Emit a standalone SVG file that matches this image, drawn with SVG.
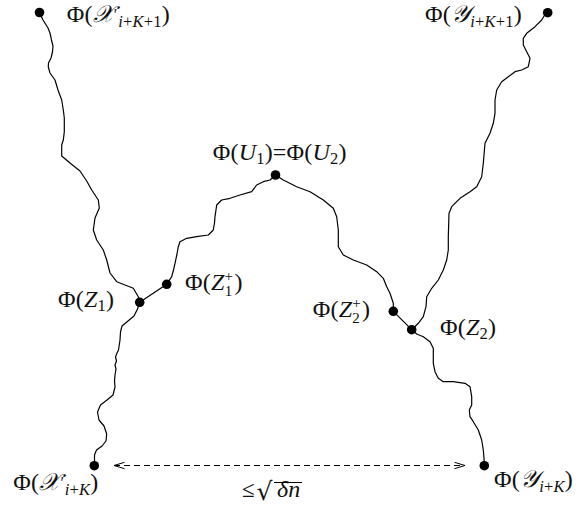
<svg xmlns="http://www.w3.org/2000/svg" width="583" height="512" viewBox="0 0 583 512">
<style>
.lbl{font-family:"Liberation Serif","DejaVu Serif",serif;font-size:24px;fill:#111;letter-spacing:0.2px}
.it{font-style:italic}
.sub{font-size:16.5px}
.st{font-size:15px}
.dot{fill:#000}
.walk{fill:none;stroke:#000;stroke-width:1.2;stroke-linejoin:round;stroke-linecap:round}
.dash{fill:none;stroke:#000;stroke-width:1;stroke-dasharray:6 4}
</style>
<defs>
<marker id="chev" markerUnits="userSpaceOnUse" markerWidth="14" markerHeight="10" refX="11" refY="4" orient="auto-start-reverse">
<path d="M0.5,0.8 L11,4 L0.5,7.2" fill="none" stroke="#000" stroke-width="1"/>
</marker>
</defs>
<rect width="583" height="512" fill="#fff"/>
<g id="connectors">
<polyline class="walk" points="39.5,12.5 43,20 48,28 50,33 51.5,40 53,46 52.5,52 51,58 48.5,63 48.3,67 50,73 55,80 58,90 61.7,100 63.3,110 64.3,118 64.3,131.7 63.3,140 61.7,145 61.7,156 70,163 80,171 86.7,181 91.7,190 98.3,200 99.3,208 95,218 93.3,230 96.7,240 103.3,250 106.7,260 110,273 116.7,281.7 125,285 133.3,288.3 138.3,296.7 139.7,302.3"/>
<polyline class="walk" points="139.7,302.3 137.5,309 134,316 128,321 122,326 120.5,332 120,340 118.5,350 117,353 115.5,357 116.5,361 115,365 116,369 115,375 114.5,381 115,387 113,395 107,400 100.5,405 97.5,412 99,420 104,426 106.7,434 106,441 102,446 96.5,450 94.5,455 94.5,462 94.3,465.7"/>
<polyline class="walk" points="139.7,302.3 166.7,284.3 171.7,276.7 173.5,270 175,263.3 177,254 178.3,246.7 180,241.7 186.7,238.3 196.7,236.7 208.3,235 213.3,230 214.5,223 215,216.7 216.7,205 221.7,200 230,198.3 240,195 251.7,191.7 256.7,185 263.3,181.7 270,180 275.5,175"/>
<polyline class="walk" points="275.5,175 283.3,180 296.7,186.7 310,191.7 323.3,200 333.3,208.3 336.7,216.7 338.3,230 338.3,246.7 343.3,255 353.3,260 366.7,265 376.7,271.7 383.3,278.3 386.7,286.7 390,293.3 393.3,303.3 393.3,311.3 411.7,329.7"/>
<polyline class="walk" points="411.7,329.7 418.3,323.3 423.3,316.7 426,306.7 426.7,296.7 431.7,288.3 438.3,280 443.3,270 446.7,260 448.3,250 448.3,236.7 449,213.3 451.7,206.7 460,198.3 470,191.7 476.7,186.7 481.7,176.7 483.3,163.3 485,143.3 490,133.3 493.3,123.3 495,113.3 495,100 496.7,90 501.7,81.7 508.3,76.7 515,71.7 521.7,70 528.3,66.7 530,58.3 526.7,51.7 523.3,45 523.3,38.3 526.7,33.3 535,26.7 541.7,20 545,14.5 547.7,12.7"/>
<polyline class="walk" points="411.7,329.7 416.7,334 423.3,336.7 430,341.7 433.3,348.3 433.3,355 433.3,363.3 435,371.7 438.3,378.3 443.3,381.7 453.3,381.7 465,383.3 470,386.7 471.7,396.7 471.7,405 469.3,410 470,416.7 473.3,421.7 478.3,430 481.7,440 483.3,450 484,458.3 484.3,465.7"/>
<line class="dash" x1="114" y1="465.5" x2="465" y2="465.5" marker-start="url(#chev)" marker-end="url(#chev)"/>
</g>
<g id="node-X-top">
<circle class="dot" cx="39.5" cy="12.5" r="4.8"/>
<text class="lbl" x="66.7" y="21.5">Φ(<tspan class="it">𝒳</tspan><tspan class="sub" dy="-2">′</tspan><tspan class="sub" dx="0.5" dy="7"><tspan class="it">i</tspan>+<tspan class="it">K</tspan>+1</tspan><tspan dy="-5">)</tspan></text>
</g>
<g id="node-Y-top">
<circle class="dot" cx="547.7" cy="12.7" r="4.8"/>
<text class="lbl" x="425" y="21.5">Φ(<tspan class="it">𝒴</tspan><tspan class="sub" dy="5"><tspan class="it">i</tspan>+<tspan class="it">K</tspan>+1</tspan><tspan dy="-5">)</tspan></text>
</g>
<g id="node-U">
<circle class="dot" cx="275.5" cy="175" r="4.8"/>
<text class="lbl" x="212.7" y="160">Φ(<tspan class="it">U</tspan><tspan class="sub" dy="4">1</tspan><tspan dy="-4">)=Φ(</tspan><tspan class="it">U</tspan><tspan class="sub" dy="4">2</tspan><tspan dy="-4">)</tspan></text>
</g>
<g id="node-Z1">
<circle class="dot" cx="139.7" cy="302.3" r="4.8"/>
<text class="lbl" x="58" y="307">Φ(<tspan class="it">Z</tspan><tspan class="sub" dy="4">1</tspan><tspan dy="-4">)</tspan></text>
</g>
<g id="node-Z1plus">
<circle class="dot" cx="166.7" cy="284.3" r="4.8"/>
<text class="lbl" x="185" y="290">Φ(<tspan class="it">Z</tspan><tspan class="st" dy="-9">+</tspan><tspan class="st" dx="-8.5" dy="15">1</tspan><tspan dx="2" dy="-6">)</tspan></text>
</g>
<g id="node-Z2plus">
<circle class="dot" cx="393.3" cy="311.3" r="4.8"/>
<text class="lbl" x="312.7" y="316.5">Φ(<tspan class="it">Z</tspan><tspan class="st" dy="-9">+</tspan><tspan class="st" dx="-8.5" dy="15">2</tspan><tspan dx="2" dy="-6">)</tspan></text>
</g>
<g id="node-Z2">
<circle class="dot" cx="411.7" cy="329.7" r="4.8"/>
<text class="lbl" x="440" y="335">Φ(<tspan class="it">Z</tspan><tspan class="sub" dy="4">2</tspan><tspan dy="-4">)</tspan></text>
</g>
<g id="node-X-bottom">
<circle class="dot" cx="94.3" cy="465.7" r="4.8"/>
<text class="lbl" x="13.3" y="490">Φ(<tspan class="it">𝒳</tspan><tspan class="sub" dy="-2">′</tspan><tspan class="sub" dx="0.5" dy="7"><tspan class="it">i</tspan>+<tspan class="it">K</tspan></tspan><tspan dy="-5">)</tspan></text>
</g>
<g id="node-Y-bottom">
<circle class="dot" cx="484.3" cy="465.7" r="4.8"/>
<text class="lbl" x="494" y="487">Φ(<tspan class="it">𝒴</tspan><tspan class="sub" dy="5"><tspan class="it">i</tspan>+<tspan class="it">K</tspan></tspan><tspan dy="-5">)</tspan></text>
</g>
<g id="distance-label">
<text class="lbl" x="242" y="497"><tspan font-size="23">≤</tspan><tspan font-family="DejaVu Sans" font-size="25" x="256.5" dy="3">√</tspan><tspan class="it" x="277" dy="-3">δn</tspan></text>
<line x1="274" y1="482.5" x2="302" y2="482.5" stroke="#000" stroke-width="1"/>
</g>
</svg>
